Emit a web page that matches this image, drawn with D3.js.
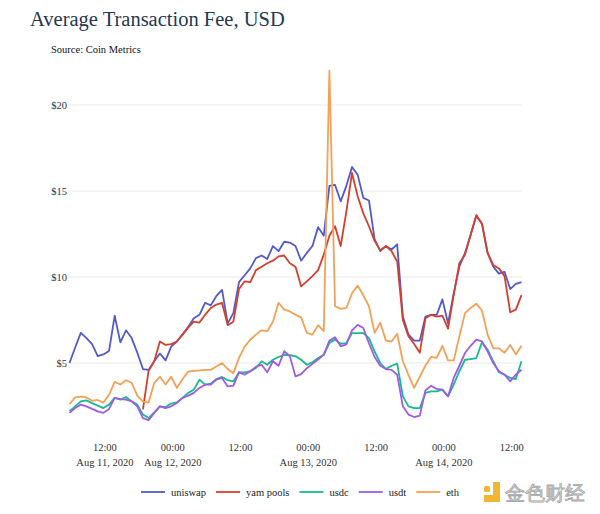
<!DOCTYPE html>
<html>
<head>
<meta charset="utf-8">
<script src="https://cdn.jsdelivr.net/npm/d3@7"></script>
<style>
  body { margin: 0; background: #fff; }
  svg text { font-family: "Liberation Serif", "Times New Roman", serif; }
</style>
</head>
<body>
<svg id="chart" width="600" height="514" font-family="Liberation Serif, Times New Roman, serif"></svg>
<script>
// --- DATOS (USD por hora, desde 11 ago 2020 06:00) ---
const startTime = '2020-08-11 06:00';
const seriesNames = ['uniswap', 'yam pools', 'usdc', 'usdt', 'eth'];
const seriesColors = ['#5259cf', '#d63f2c', '#16bb8c', '#a05ae6', '#f4a156'];

const uniswap = [5.0, 5.9, 6.75, 6.45, 6.1, 5.4, 5.5, 5.7, 7.75, 6.2,
  6.9, 6.45, 5.6, 4.65, 4.6, 5.1, 5.55, 5.15, 5.95, 6.25,
  6.65, 7.1, 7.6, 7.8, 8.5, 8.35, 8.9, 9.25, 7.3, 7.9,
  9.7, 10.1, 10.5, 11.1, 11.25, 11.05, 11.8, 11.5, 12.05, 12.0,
  11.8, 10.95, 11.4, 11.8, 12.9, 12.4, 15.3, 15.35, 14.4, 15.3,
  16.4, 15.95, 14.6, 14.45, 12.2, 11.5, 11.8, 11.6, 11.9, 7.7,
  6.65, 6.3, 6.3, 7.7, 7.8, 7.8, 8.7, 7.3, 9.05, 10.6,
  11.4, 12.45, 13.55, 13.1, 11.4, 10.6, 10.2, 10.3, 9.3, 9.6, 9.7];

const yamPools = [null, null, null, null, null, null, null, null, null, null,
  null, null, null, 2.3, 4.55, 5.1, 6.25, 6.05, 6.1, 6.25,
  6.65, 7.05, 7.4, 7.35, 7.8, 8.2, 8.4, 8.5, 7.2, 7.4,
  9.3, 9.75, 9.7, 10.4, 10.6, 10.8, 10.95, 11.2, 11.25, 10.8,
  10.6, 9.45, 9.75, 10.05, 10.4, 11.3, 12.4, 12.95, 11.8, 13.8,
  16.05, 14.7, 13.7, 12.95, 12.1, 11.55, 11.8, 11.5, 10.9, 7.5,
  6.55, 6.1, 5.6, 7.6, 7.8, 7.7, 7.75, 7.0, 8.95, 10.8,
  11.3, 12.45, 13.6, 13.1, 11.4, 10.7, 10.5, 10.05, 7.95, 8.1, 8.95];

const usdc = [2.2, 2.48, 2.77, 2.83, 2.67, 2.52, 2.38, 2.58, 2.97, 2.87,
  3.02, 2.77, 2.58, 2.0, 1.8, 2.13, 2.48, 2.44, 2.64, 2.71,
  2.97, 3.26, 3.45, 4.03, 3.74, 3.8, 4.07, 4.19, 4.0, 3.93,
  4.46, 4.46, 4.52, 4.71, 5.1, 4.9, 5.19, 5.35, 5.48, 5.45,
  5.4, 5.19, 4.9, 5.04, 5.29, 5.48, 6.16, 6.36, 6.12, 6.16,
  6.74, 6.74, 6.74, 6.45, 5.68, 5.0, 4.65, 4.84, 4.96, 3.06,
  2.48, 2.38, 2.38, 3.26, 3.35, 3.35, 3.45, 3.06, 3.74, 4.52,
  5.19, 5.23, 5.29, 6.2, 5.78, 5.1, 4.46, 4.32, 4.13, 4.07, 5.1];

const usdt = [2.1, 2.38, 2.58, 2.48, 2.33, 2.19, 2.1, 2.33, 2.97, 2.9,
  2.87, 2.77, 2.48, 1.8, 1.67, 2.1, 2.48, 2.38, 2.48, 2.67,
  2.97, 3.1, 3.26, 3.55, 3.74, 3.74, 4.03, 4.13, 3.64, 3.68,
  4.46, 4.32, 4.52, 4.77, 4.9, 4.46, 5.1, 4.84, 5.68, 5.4,
  4.22, 4.35, 4.7, 4.95, 5.2, 5.47, 6.3, 6.5, 5.97, 6.08,
  6.9, 7.22, 7.03, 6.15, 5.35, 4.84, 4.65, 4.6, 4.32, 2.48,
  2.0, 1.86, 1.94, 3.41, 3.68, 3.49, 3.45, 3.06, 4.13, 4.84,
  5.58, 6.0, 6.36, 6.26, 5.68, 5.0, 4.52, 4.32, 3.93, 4.32, 4.61];

const eth = [2.6, 3.0, 3.05, 3.0, 2.8, 2.85, 2.7, 3.15, 3.9, 3.75,
  4.0, 3.85, 3.1, 2.75, 2.7, 3.85, 4.2, 3.75, 4.2, 3.55,
  4.05, 4.5, 4.55, 4.57, 4.6, 4.6, 4.8, 5.0, 4.65, 4.4,
  5.3, 5.95, 6.35, 6.65, 6.9, 6.85, 7.4, 8.5, 8.1, 8.0,
  7.8, 7.65, 6.75, 6.65, 7.2, 6.85, 22.0, 8.3, 8.15, 8.2,
  9.05, 9.5, 8.95, 8.3, 6.75, 7.35, 6.3, 6.25, 6.7, 5.1,
  4.3, 3.55, 4.2, 4.85, 5.35, 5.3, 6.0, 5.15, 5.15, 6.55,
  7.9, 8.2, 8.45, 8.05, 6.65, 5.85, 5.85, 5.6, 6.05, 5.5, 6.0];

const yTicks = [5, 10, 15, 20];
const xTicks = ['2020-08-11 12:00', '2020-08-12 00:00', '2020-08-12 12:00',
  '2020-08-13 00:00', '2020-08-13 12:00', '2020-08-14 00:00', '2020-08-14 12:00'];

// === CONFIGURACIÓN ===
const parseTime = d3.timeParse('%Y-%m-%d %H:%M');
const formatHour = d3.timeFormat('%H:%M');
const formatDay = d3.timeFormat('%b %-d, %Y');

const t0 = parseTime(startTime);
const times = uniswap.map((_, i) => d3.timeHour.offset(t0, i));
const allSeries = [uniswap, yamPools, usdc, usdt, eth];

const svg = d3.select('#chart');
svg.append('rect').attr('width', 600).attr('height', 514).attr('fill', '#fff');

const x = d3.scaleTime()
  .domain(d3.extent(times))
  .range([69.5, 521.5]);

const y = d3.scaleLinear()
  .domain([0, 20])
  .range([449, 105]);

// --- TÍTULO ---
svg.append('text')
  .attr('x', 30).attr('y', 26)
  .attr('font-size', 20.5)
  .attr('fill', '#263850')
  .text('Average Transaction Fee, USD');

svg.append('text')
  .attr('x', 51).attr('y', 53)
  .attr('font-size', 10.5)
  .attr('fill', '#111')
  .text('Source: Coin Metrics');

// --- GRILLA Y EJE Y ---
const grid = svg.append('g');
grid.selectAll('line')
  .data(yTicks)
  .enter().append('line')
  .attr('x1', 68).attr('x2', 522)
  .attr('y1', d => y(d)).attr('y2', d => y(d))
  .attr('stroke', '#e9e9e9')
  .attr('stroke-width', 1);

grid.selectAll('text')
  .data(yTicks)
  .enter().append('text')
  .attr('x', 67)
  .attr('y', d => y(d))
  .attr('dy', '0.35em')
  .attr('text-anchor', 'end')
  .attr('font-size', 10.5)
  .attr('fill', '#333')
  .text(d => '$' + d);

// --- EJE X ---
const xAxis = svg.append('g');
const tickDates = xTicks.map(parseTime);
const xt = xAxis.selectAll('text')
  .data(tickDates)
  .enter().append('text')
  .attr('text-anchor', 'middle')
  .attr('font-size', 10.5)
  .attr('fill', '#333');

xt.append('tspan')
  .attr('x', d => x(d) + 1.5)
  .attr('y', 451)
  .text(d => formatHour(d));

xt.filter((d, i) => i === 0 || d.getHours() === 0)
  .append('tspan')
  .attr('x', d => x(d) + 1.5)
  .attr('y', 465.5)
  .text(d => formatDay(d));

// --- LÍNEAS ---
const line = d3.line()
  .defined(d => d.v != null)
  .x(d => x(d.t))
  .y(d => y(d.v));

svg.append('g').selectAll('path')
  .data(allSeries)
  .enter().append('path')
  .attr('fill', 'none')
  .attr('stroke', (d, i) => seriesColors[i])
  .attr('stroke-width', 1.8)
  .attr('stroke-linejoin', 'round')
  .attr('d', s => line(s.map((v, i) => ({t: times[i], v}))));

// --- LEYENDA ---
const legend = svg.append('g');
let lx = 0;
seriesNames.forEach((name, i) => {
  const item = legend.append('g').attr('transform', `translate(${lx},0)`);
  item.append('line')
    .attr('x1', 0).attr('x2', 24)
    .attr('stroke', seriesColors[i])
    .attr('stroke-width', 1.8);
  const t = item.append('text')
    .attr('x', 30).attr('dy', '0.35em')
    .attr('font-size', 10.5)
    .attr('fill', '#222')
    .text(name);
  lx += 30 + t.node().getComputedTextLength() + 10;
});
const legendW = lx - 10;
legend.attr('transform', `translate(${300 - legendW / 2},492)`);

// --- MARCA DE AGUA ---
const wm = svg.append('g').attr('transform', 'translate(484,482)');
wm.append('rect').attr('x', 0).attr('y', 4).attr('width', 6).attr('height', 6)
  .attr('rx', 1.5).attr('fill', '#f2b632');
wm.append('path')
  .attr('d', 'M9,0 H16 V20 H0 V13 H9 Z')
  .attr('fill', '#f2b632');
wm.append('text')
  .attr('x', 21).attr('y', 18)
  .attr('font-family', '"Noto Sans CJK SC", sans-serif')
  .attr('font-size', 20)
  .attr('fill', '#f0f0f0')
  .attr('stroke', '#a8a8a8')
  .attr('stroke-width', 0.9)
  .text('金色财经');
</script>
</body>
</html>
